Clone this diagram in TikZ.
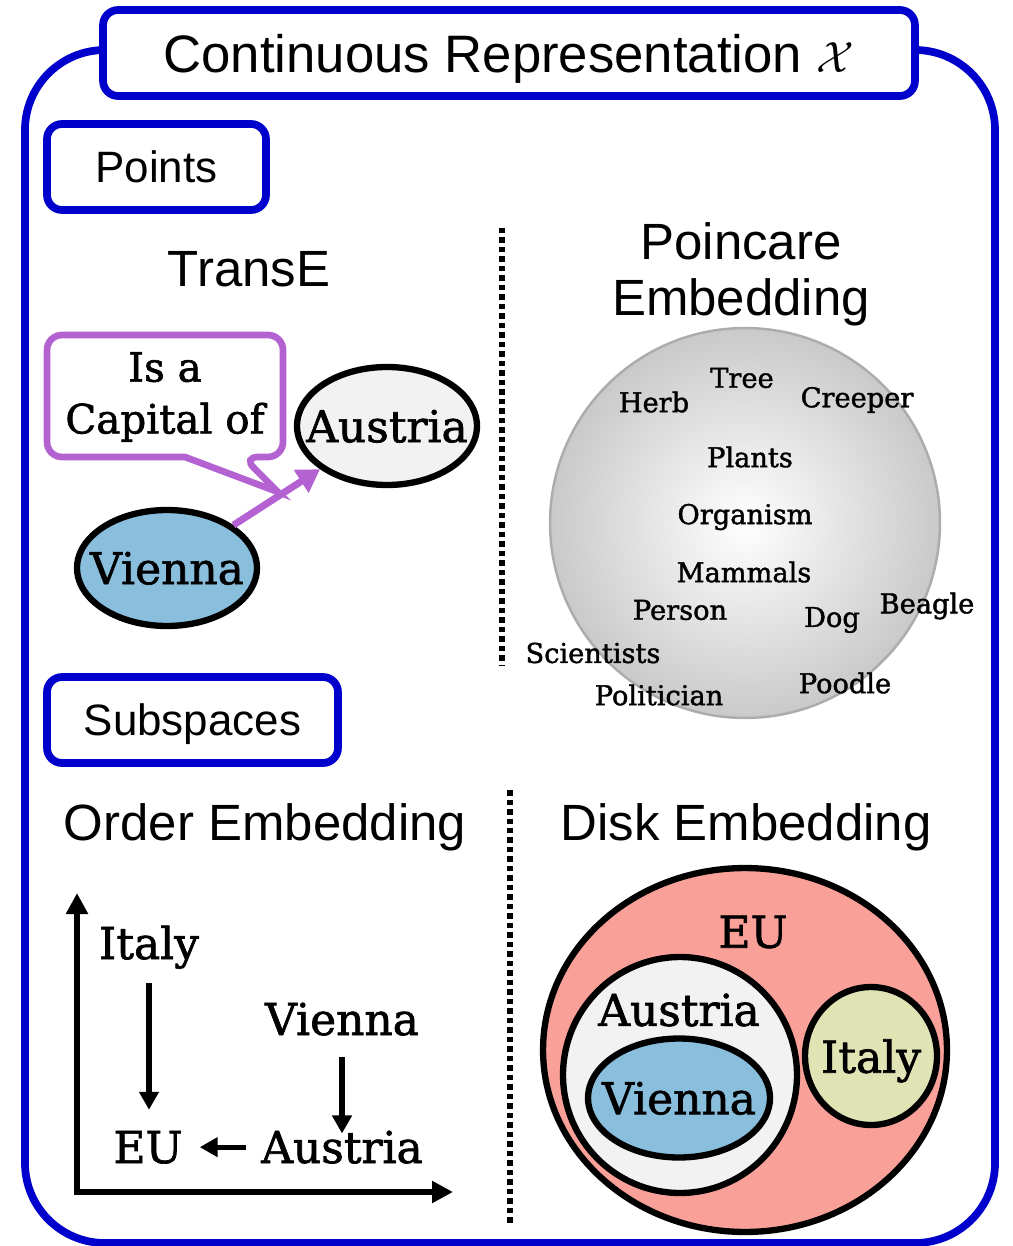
\documentclass[tikz,border=0pt]{standalone}
\usepackage{fontspec}
\setsansfont{Liberation Sans}
\newfontfamily\slabfont{DejaVu Serif}[FakeBold=1.5]
\usetikzlibrary{shapes.geometric,arrows.meta}
\definecolor{frameblue}{RGB}{0,0,204}
\definecolor{relpurple}{RGB}{180,98,210}
\definecolor{viennablue}{RGB}{137,190,220}
\definecolor{austriagray}{RGB}{242,242,242}
\definecolor{eusalmon}{RGB}{249,161,153}
\definecolor{italygreen}{RGB}{224,228,180}
\newcommand{\inside}[1]{\makebox[0pt]{#1}}
\tikzset{
  frameline/.style={draw=frameblue, line width=4.4pt},
  tagbox/.style={frameline, rounded corners=0.3cm, fill=white, minimum height=1.72cm, text depth=0pt, font=\sffamily\fontsize{25}{30}\selectfont},
  heading/.style={anchor=base, font=\sffamily\fontsize{29}{32}\selectfont},
  region/.style={ellipse, draw=black, line width=3.6pt, inner sep=0pt, text depth=0pt, font=\slabfont\fontsize{25}{30}\selectfont},
  slabword/.style={font=\slabfont\fontsize{25}{30}\selectfont},
  ballword/.style={font=\slabfont\fontsize{15.5}{18}\selectfont},
  hasarrow/.style={line width=3pt, -{Triangle[length=0.36cm, width=0.38cm]}},
  separator/.style={line width=3.6pt, dash pattern=on 0.11cm off 0.08cm},
}

\begin{document}
\begin{tikzpicture}[x=0.02cm, y=-0.02cm]
\useasboundingbox (0,0) rectangle (1013,1246);
% outer frame and title
\draw[frameline, rounded corners=1.6cm] (25,50) rectangle (995,1243);
\node[tagbox, minimum width=16.24cm, font=\sffamily\fontsize{30}{34}\selectfont] (title) at (509,53) {Continuous Representation $\mathcal{X}$};

% points
\node[tagbox, minimum width=4.38cm] (points) at (156.5,167) {Points};
\node[heading] (transe) at (249,287) {TransE};
\node[align=center, font=\sffamily\fontsize{29}{31.8}\selectfont] (poincare) at (741,274) {Poincare\\Embedding};
\coordinate (sepTop) at (502,228);
\coordinate (sepTopEnd) at (502,665);
\draw[separator] (sepTop) -- (sepTopEnd);

% TransE
\draw[relpurple, line width=3.8pt, fill=white] (278,492) -- (185,457) [rounded corners=0.3cm] -- (47,457) -- (47,335) -- (283,335) -- (283,457) -- (243,457) [sharp corners] -- cycle;
\node[align=center, font=\slabfont\fontsize{23}{29.5}\selectfont] (relation) at (165,397) {Is a\\Capital of};
\node[region, fill=austriagray, minimum width=3.6cm, minimum height=2.36cm] (austriaT) at (387,426) {\inside{Austria}};
\node[region, fill=viennablue, minimum width=3.6cm, minimum height=2.32cm] (viennaT) at (167,568) {\inside{Vienna}};
\draw[relpurple, line width=4pt, -{Triangle[length=0.45cm, width=0.52cm]}] (viennaT) -- (austriaT);

% Poincare ball
\node[circle, draw=gray!65, line width=1.4pt, inner color=white, outer color=gray!42, minimum size=7.8cm] (ball) at (745,523) {};
\foreach \w/\px/\py in {Tree/742/378, Herb/654/402, Creeper/857/400, Plants/750/457,
    Organism/745/517, Mammals/744/572, Person/680/610, Dog/832/620, Beagle/927/606,
    Scientists/593/653, Poodle/845/683, Politician/659/695}
  \node[ballword] (\w) at (\px,\py) {\w};

% subspaces
\node[tagbox, minimum width=5.82cm] (subspaces) at (192.5,720) {Subspaces};
\node[heading] (order) at (265,840) {Order Embedding};
\node[heading] (disk) at (746,840) {Disk Embedding};
\coordinate (sepBottom) at (510,790);
\coordinate (sepBottomEnd) at (510,1225);
\draw[separator] (sepBottom) -- (sepBottomEnd);

% order embedding
\coordinate (origin) at (77,1192);
\coordinate (yend) at (77,893);
\coordinate (xend) at (453,1192);
\draw[line width=3pt, {Triangle[length=0.42cm, width=0.42cm]}-{Triangle[length=0.42cm, width=0.42cm]}] (yend) -- (origin) -- (xend);
\node[slabword, anchor=base] (italyO) at (149,959) {Italy};
\node[slabword, anchor=base] (euO) at (148,1163) {EU};
\node[slabword, anchor=base] (viennaO) at (342,1035) {Vienna};
\node[slabword, anchor=base] (austriaO) at (342,1163) {Austria};
\draw[hasarrow, shorten <=0.16cm, shorten >=0.3cm] (italyO.south) -- (italyO.south |- euO.north);
\draw[hasarrow, shorten <=0.3cm, shorten >=-0.18cm] (viennaO.south) -- (viennaO.south |- austriaO.north);
\draw[hasarrow, shorten <=0.18cm, shorten >=0.22cm] (austriaO.west) -- (austriaO.west -| euO.east);

% disk embedding
\node[region, fill=eusalmon, minimum width=8.08cm, minimum height=7.28cm] (euD) at (745,1050) {};
\node[slabword] (euLabel) at (753,932) {EU};
\node[region, fill=austriagray, minimum width=4.68cm, minimum height=4.72cm] (austriaD) at (680,1075) {};
\node[slabword] (austriaLabel) at (679,1010) {Austria};
\node[region, fill=viennablue, minimum width=3.64cm, minimum height=2.38cm] (viennaD) at (679,1098) {\inside{Vienna}};
\node[region, fill=italygreen, minimum width=2.64cm, minimum height=2.76cm] (italyD) at (871,1056) {\inside{Italy}};
\end{tikzpicture}
\end{document}
